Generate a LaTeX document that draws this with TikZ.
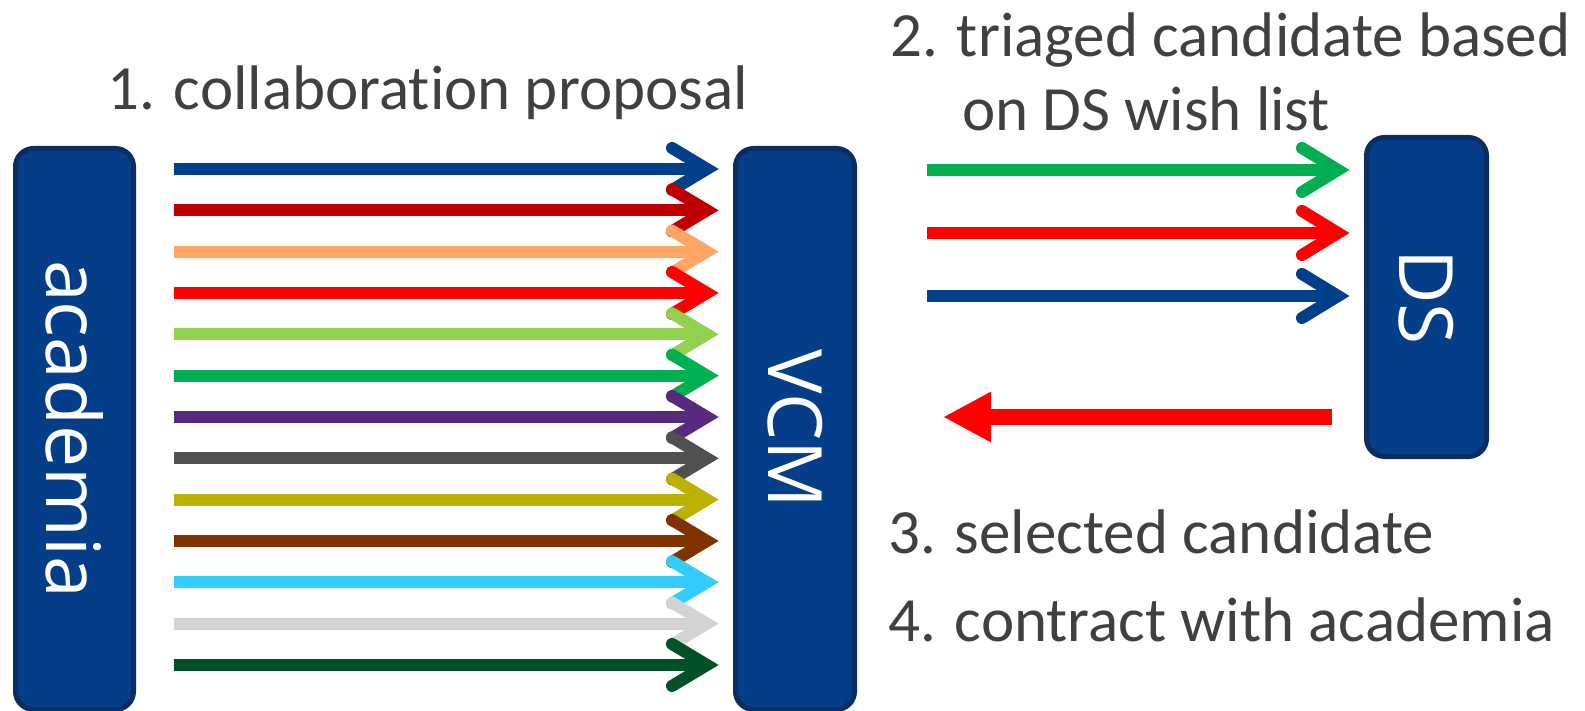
\documentclass[tikz,border=0pt]{standalone}
\usepackage{fontspec}
\usepackage{graphicx}
\usetikzlibrary{arrows.meta}
\newfontfamily\capfont[Ligatures=CommonOff]{Carlito}
\newfontfamily\boxfont{Open Sans}
\definecolor{boxfill}{HTML}{043E88}
\definecolor{boxline}{HTML}{0B2D62}
\definecolor{captext}{HTML}{404040}
\definecolor{cA}{HTML}{00408A}
\definecolor{cB}{HTML}{C00000}
\definecolor{cC}{HTML}{FFA566}
\definecolor{cD}{HTML}{FF0000}
\definecolor{cE}{HTML}{92D050}
\definecolor{cF}{HTML}{00B050}
\definecolor{cG}{HTML}{582A7D}
\definecolor{cH}{HTML}{505050}
\definecolor{cI}{HTML}{BCB000}
\definecolor{cJ}{HTML}{803300}
\definecolor{cK}{HTML}{33CCFF}
\definecolor{cL}{HTML}{D3D3D5}
\definecolor{cM}{HTML}{005128}
\begin{document}
\begin{tikzpicture}[x=1pt,y=-1pt,
  unit/.style={draw=boxline, fill=boxfill, line width=5pt, rounded corners=18pt,
    text=white, font=\boxfont\fontsize{75}{75}\selectfont, rotate=-90, inner sep=0pt},
  caption/.style={anchor=base west, inner sep=0pt, text=captext,
    font=\capfont\fontsize{63}{63}\selectfont},
  flow/.style={line width=12pt},
  barb/.style={line width=12pt, line cap=round, line join=miter},
]
\useasboundingbox (0,0) rectangle (1585,711);

% the three parties
\node[unit, minimum width=561pt, minimum height=118pt] (academia) at (74.5,429) {academia};
\node[unit, minimum width=561pt, minimum height=119pt] (vcm) at (795,429) {VCM};
\node[unit, minimum width=319pt, minimum height=120pt] (ds) at (1426.5,297) {DS};

% step 1: many proposals from academia to VCM
\foreach \c [count=\i] in {cA,cB,cC,cD,cE,cF,cG,cH,cI,cJ,cK,cL,cM} {
  \pgfmathsetmacro\yy{169+41.33*(\i-1)}
  \coordinate (s\i) at (174,\yy);
  \coordinate (t\i) at (707,\yy);
  \draw[flow,\c] (s\i) -- (t\i);
  \draw[barb,\c] ([shift={(-35,-21)}]t\i) -- (t\i) -- ([shift={(-35,21)}]t\i);
}

% step 2: triaged candidates from VCM to DS
\foreach \c/\yy [count=\i] in {cF/170,cD/233,cA/296} {
  \coordinate (p\i) at (927,\yy);
  \coordinate (q\i) at (1338,\yy);
  \draw[flow,\c] (p\i) -- (q\i);
  \draw[barb,\c] ([shift={(-36,-22)}]q\i) -- (q\i) -- ([shift={(-36,22)}]q\i);
}

% step 3: selected candidate back from DS
\coordinate (r0) at (1332,417);
\coordinate (r1) at (943,417);
\draw[line width=16pt, cD, -{Triangle[length=48pt,width=47pt]}] (r0) -- (r1);

% step labels
\node[caption] (cap1) at (107,110) {1. collaboration proposal};
\node[caption] (cap2) at (890,57) {2. triaged candidate based};
\node[caption] (cap2b) at (962,131) {on DS wish list};
\node[caption] (cap3) at (888,553) {3. selected candidate};
\node[caption] (cap4) at (888,641) {4. contract with academia};
\end{tikzpicture}
\end{document}
